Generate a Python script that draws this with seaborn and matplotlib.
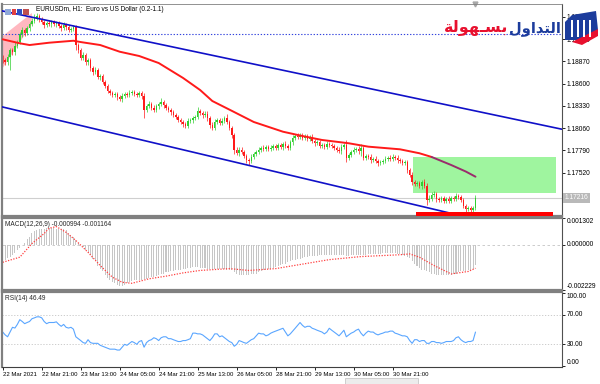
import matplotlib
matplotlib.use("Agg")
import matplotlib.pyplot as plt
import matplotlib.transforms as mtransforms
from matplotlib.patches import Rectangle, Polygon
import numpy as np
import pandas as pd
import seaborn as sns

# ---------------- data ----------------
chart_title = "EURUSDm, H1:  Euro vs US Dollar (0.2-1.1)"

first_open = 1.18920
closes = [
    1.18885, 1.18861, 1.18922, 1.19006, 1.18982, 1.19055, 1.19103, 1.19200, 1.19249, 1.19212, 1.19273, 1.19321, 1.19358, 1.19394, 1.19418,
    1.19382, 1.19346, 1.19309, 1.19334, 1.19321, 1.19346, 1.19321, 1.19334, 1.19297, 1.19273, 1.19309, 1.19285, 1.19249, 1.19261, 1.19285,
    1.19067, 1.19006, 1.18910, 1.18946, 1.18861, 1.18885, 1.18789, 1.18740, 1.18764, 1.18680, 1.18692, 1.18619, 1.18571, 1.18510, 1.18486,
    1.18462, 1.18474, 1.18437, 1.18413, 1.18449, 1.18474, 1.18462, 1.18486, 1.18498, 1.18474, 1.18462, 1.18486, 1.18449, 1.18280, 1.18328,
    1.18353, 1.18304, 1.18280, 1.18328, 1.18353, 1.18377, 1.18340, 1.18304, 1.18280, 1.18256, 1.18219, 1.18195, 1.18159, 1.18135, 1.18110,
    1.18086, 1.18147, 1.18159, 1.18183, 1.18195, 1.18268, 1.18244, 1.18219, 1.18232, 1.18183, 1.18098, 1.18062, 1.18135, 1.18159, 1.18123,
    1.18147, 1.18183, 1.18135, 1.18062, 1.17977, 1.17796, 1.17759, 1.17796, 1.17771, 1.17723, 1.17674, 1.17662, 1.17711, 1.17747, 1.17771,
    1.17796, 1.17820, 1.17808, 1.17832, 1.17808, 1.17820, 1.17844, 1.17820, 1.17856, 1.17832, 1.17868, 1.17844, 1.17820, 1.17892, 1.17941,
    1.17965, 1.17953, 1.17977, 1.17941, 1.17965, 1.17929, 1.17953, 1.17905, 1.17880, 1.17892, 1.17844, 1.17856, 1.17832, 1.17868, 1.17856,
    1.17844, 1.17820, 1.17796, 1.17783, 1.17832, 1.17856, 1.17699, 1.17735, 1.17771, 1.17796, 1.17808, 1.17783, 1.17820, 1.17699, 1.17723,
    1.17711, 1.17674, 1.17687, 1.17662, 1.17638, 1.17650, 1.17662, 1.17687, 1.17699, 1.17687, 1.17711, 1.17699, 1.17674, 1.17662, 1.17638,
    1.17650, 1.17553, 1.17493, 1.17408, 1.17384, 1.17396, 1.17360, 1.17408, 1.17360, 1.17190, 1.17202, 1.17251, 1.17263, 1.17202, 1.17190,
    1.17214, 1.17178, 1.17202, 1.17178, 1.17214, 1.17202, 1.17238, 1.17226, 1.17190, 1.17117, 1.17081, 1.17093, 1.17069, 1.17093, 1.17216,
]
# wick lengths beyond the body, in pips
upper_wick_pips = [
    3, 2, 4, 3, 2, 5, 3, 2, 4, 3, 2, 3, 4, 5, 4,
    2, 3, 2, 3, 4, 2, 3, 2, 3, 2, 4, 3, 2, 3, 2,
    2, 3, 2, 4, 3, 2, 3, 2, 4, 2, 3, 2, 3, 2, 3,
    2, 3, 2, 3, 4, 2, 3, 4, 2, 3, 2, 3, 2, 4, 3,
    3, 2, 4, 3, 2, 5, 3, 2, 3, 2, 3, 2, 2, 3, 2,
    3, 4, 3, 2, 3, 5, 3, 2, 4, 3, 2, 4, 3, 2, 3,
    4, 3, 5, 2, 3, 2, 3, 4, 3, 2, 3, 2, 4, 3, 2,
    3, 2, 3, 2, 3, 4, 2, 3, 2, 3, 2, 4, 3, 2, 4,
    3, 4, 2, 3, 2, 3, 2, 4, 2, 3, 2, 3, 2, 4, 3,
    2, 3, 2, 3, 4, 3, 6, 3, 2, 3, 2, 3, 5, 2, 3,
    2, 3, 2, 3, 2, 3, 2, 3, 2, 3, 4, 2, 3, 2, 3,
    2, 3, 3, 4, 2, 3, 2, 3, 4, 3, 5, 3, 4, 2, 3,
    2, 3, 2, 4, 3, 2, 4, 3, 2, 3, 2, 3, 2, 2, 4,
]
lower_wick_pips = [
    4, 3, 3, 16, 3, 4, 3, 2, 4, 3, 2, 3, 2, 3, 2,
    3, 2, 3, 2, 2, 3, 2, 3, 2, 3, 2, 3, 2, 3, 2,
    6, 4, 3, 2, 4, 3, 4, 3, 2, 3, 4, 2, 3, 3, 2,
    3, 2, 4, 3, 4, 2, 3, 2, 3, 2, 3, 2, 3, 10, 3,
    2, 3, 2, 3, 4, 2, 3, 2, 3, 4, 2, 3, 2, 3, 4,
    3, 2, 3, 4, 2, 3, 2, 3, 2, 4, 3, 2, 3, 2, 3,
    2, 3, 2, 3, 4, 5, 3, 4, 3, 3, 4, 5, 3, 2, 3,
    2, 3, 2, 3, 2, 3, 2, 3, 2, 3, 4, 2, 3, 2, 3,
    2, 3, 2, 3, 2, 3, 2, 3, 4, 2, 3, 2, 3, 2, 3,
    3, 2, 3, 2, 3, 2, 5, 3, 2, 3, 2, 3, 6, 2, 3,
    2, 3, 2, 3, 4, 2, 3, 2, 3, 2, 3, 2, 3, 2, 3,
    3, 4, 3, 4, 3, 2, 3, 4, 2, 6, 3, 2, 3, 4, 3,
    2, 3, 2, 3, 2, 3, 2, 3, 2, 3, 4, 3, 2, 3, 3,
]

# moving average (red line), vertices
ma_bar = [0, 7, 11, 19, 29, 32, 40, 48, 56, 64, 74, 81, 86, 94, 103, 115,
          123, 131, 142, 150, 163, 171, 176, 184, 190, 194]
ma_price = [1.19136, 1.19088, 1.19067, 1.19095, 1.19119, 1.19103, 1.19067, 1.18986,
            1.18934, 1.18849, 1.18668, 1.18522, 1.18389, 1.18270, 1.18135, 1.18017,
            1.17965, 1.17917, 1.17877, 1.17836, 1.17804, 1.17756, 1.17711, 1.17614,
            1.17535, 1.17472]

# MACD main (histogram), in units of 1e-5
macd_hist_e5 = [
    -78, -74, -64, -59, -49, -39, -29, -15, 0, 10, 25, 39, 59, 64, 69,
    74, 78, 78, 83, 83, 83, 83, 78, 78, 74, 74, 69, 59, 49, 39,
    20, 10, 0, -10, -25, -39, -49, -69, -83, -103, -118, -132, -147, -162, -176,
    -186, -191, -196, -201, -201, -196, -191, -186, -181, -176, -176, -172, -172, -167, -167,
    -162, -157, -157, -152, -147, -142, -142, -137, -137, -132, -132, -127, -123, -123, -118,
    -118, -113, -113, -108, -108, -108, -113, -113, -113, -118, -118, -118, -118, -118, -118,
    -118, -118, -123, -123, -127, -137, -142, -147, -147, -147, -147, -147, -142, -142, -142,
    -137, -132, -127, -123, -118, -118, -113, -108, -103, -98, -93, -93, -88, -83, -78,
    -74, -69, -69, -64, -59, -59, -54, -54, -54, -54, -49, -49, -49, -49, -49,
    -49, -49, -49, -49, -49, -49, -54, -54, -49, -49, -49, -49, -49, -49, -49,
    -44, -44, -44, -44, -44, -44, -39, -39, -39, -39, -39, -39, -44, -44, -49,
    -54, -59, -64, -83, -93, -103, -113, -123, -127, -132, -137, -142, -142, -147, -147,
    -147, -147, -147, -147, -147, -142, -142, -137, -132, -132, -132, -127, -123, -118, -99.4,
]
# MACD signal line vertices, units of 1e-5
signal_bar = [0, 7, 12, 17, 19, 22, 26, 30, 35, 40, 45, 49, 53, 60, 67, 74, 81, 93,
              101, 112, 122, 134, 147, 163, 167, 171, 177, 184, 191, 194]
signal_e5 = [-87, -62, 5, 54, 80, 88, 60, 20, -38, -103, -160, -185, -190, -168, -155,
             -139, -127, -118, -127, -118, -98, -74, -59, -50, -46, -62, -103, -144,
             -132, -116.4]

rsi = [
    46.5, 42.6, 40.0, 46.5, 53.0, 52.0, 57.0, 63.5, 61.0, 58.0, 59.6, 61.0, 64.8, 66.0, 67.4,
    67.4, 66.0, 61.0, 58.0, 59.6, 59.6, 59.6, 60.5, 57.0, 54.4, 57.0, 53.0, 52.0, 53.0, 50.5,
    40.0, 37.4, 34.8, 32.0, 31.0, 36.0, 32.0, 31.0, 31.0, 31.0, 28.3, 27.0, 25.7, 24.4, 23.0,
    23.0, 23.0, 21.8, 21.8, 25.7, 29.6, 28.3, 31.0, 33.5, 32.0, 29.6, 33.5, 34.8, 25.7, 32.0,
    34.8, 36.0, 38.7, 37.4, 34.8, 38.7, 40.0, 40.0, 37.4, 37.4, 36.0, 34.8, 33.5, 33.5, 34.8,
    34.8, 36.0, 37.4, 45.0, 45.0, 44.0, 44.0, 42.6, 40.0, 37.4, 34.8, 38.7, 44.0, 44.0, 40.0,
    41.3, 38.7, 36.0, 33.5, 32.0, 27.0, 29.6, 34.8, 33.5, 32.0, 31.0, 33.5, 36.0, 37.4, 41.3,
    45.0, 44.0, 44.0, 41.3, 42.6, 45.0, 46.5, 47.8, 49.0, 50.5, 51.7, 46.5, 41.3, 44.0, 47.8,
    51.7, 55.7, 59.6, 55.7, 53.0, 54.4, 54.4, 51.7, 50.5, 49.0, 47.8, 46.5, 44.0, 46.5, 51.7,
    49.0, 46.5, 44.0, 41.3, 45.0, 49.0, 40.0, 42.6, 45.0, 46.5, 49.0, 50.5, 45.0, 41.3, 45.0,
    47.8, 46.5, 46.5, 44.0, 42.6, 44.0, 45.0, 46.5, 46.5, 47.8, 47.8, 45.0, 44.0, 42.6, 41.3,
    41.3, 40.0, 34.8, 31.0, 36.0, 36.0, 33.5, 34.8, 34.8, 31.0, 31.0, 33.5, 33.5, 32.0, 32.0,
    31.0, 32.0, 33.5, 33.5, 33.5, 34.8, 38.7, 40.0, 36.0, 33.5, 32.0, 33.5, 33.5, 34.8, 46.49,
]

time_ticks = [0, 16, 32, 48, 64, 80, 96, 112, 128, 144, 160]
time_labels = ["22 Mar 2021", "22 Mar 21:00", "23 Mar 13:00", "24 Mar 05:00",
               "24 Mar 21:00", "25 Mar 13:00", "26 Mar 05:00", "28 Mar 21:00",
               "29 Mar 13:00", "30 Mar 05:00", "30 Mar 21:00"]

price_ticks = [1.19410, 1.19140, 1.18870, 1.18600, 1.18330, 1.18060, 1.17790, 1.17520, 1.17250]
macd_ticks = [0.001302, 0.0, -0.002229]
rsi_ticks = [100, 70, 30, 0]
rsi_levels = [70, 30]

bid_price = 1.17216
dotted_level = 1.19197
channel_top = [(0, 1.19479), (229, 1.18050)]
channel_bottom = [(0, 1.18316), (185, 1.17021)]
green_zone = {"bar0": 168.3, "bar1": 227.0, "low": 1.17275, "high": 1.17711}
red_zone = {"bar0": 169.5, "bar1": 225.8, "low": 1.16980, "high": 1.17050}
pink_zone_bar = [0, 12, 12, 0]
pink_zone_price = [1.19176, 1.19455, 1.19321, 1.18789]

logo_blue = "\uFEDD\uFEED\uFE8D\uFEAA\uFE98\uFEDF\uFE8D"        # التداول
logo_red = "\uFE94\uFEDF\uFEEE\uFEEC\u0640\uFEB4\uFE91"         # بسهولة

# ---------------- frame ----------------
sns.set_theme(style="white")
plt.rcParams["font.family"] = ["Liberation Sans", "DejaVu Sans"]

W, H = 600, 384
fig = plt.figure(figsize=(6.0, 3.84), dpi=100)
fig.patch.set_facecolor("white")


def px_axes(x0, y0, x1, y1):
    return fig.add_axes([x0 / W, 1 - y1 / H, (x1 - x0) / W, (y1 - y0) / H])


ax = px_axes(2, 4, 562, 216)
ax_macd = px_axes(2, 218, 562, 290)
ax_rsi = px_axes(2, 292, 562, 367)

n = min(len(closes), len(upper_wick_pips), len(lower_wick_pips), len(macd_hist_e5), len(rsi))
bars = pd.DataFrame({"bar": np.arange(n),
                     "open": ([first_open] + closes[:-1])[:n],
                     "close": closes[:n]})
body_top = bars[["open", "close"]].max(axis=1)
body_bot = bars[["open", "close"]].min(axis=1)
bars["high"] = body_top + np.array(upper_wick_pips[:n]) * 1e-4
bars["low"] = body_bot - np.array(lower_wick_pips[:n]) * 1e-4
bull = bars["close"] >= bars["open"]
candle_col = np.where(bull, "#2fcf2f", "#ff1a1a")

XMIN, XMAX = -0.3, 229.5
LBL = 4.8

# ---- main price panel ----
ax.add_patch(Rectangle((green_zone["bar0"], green_zone["low"]),
                       green_zone["bar1"] - green_zone["bar0"],
                       green_zone["high"] - green_zone["low"],
                       fc="#9ff59f", ec="none", zorder=0.5))
ax.add_patch(Polygon(list(zip(pink_zone_bar, pink_zone_price)), closed=True,
                     fc="#ffb8c0", ec="none", zorder=0.5))
ax.axhline(bid_price, color="#cfcfcf", lw=0.8, zorder=0.6)
ax.axhline(dotted_level, color="#3344dd", lw=0.8, ls=(0, (1.2, 1.6)), zorder=0.7)

ax.vlines(bars["bar"], bars["low"], bars["high"], colors=candle_col, lw=0.5, zorder=2)
ax.bar(bars["bar"], np.maximum(body_top - body_bot, 0.00003), bottom=body_bot,
       width=0.62, color=candle_col, lw=0, zorder=2)

ma = pd.DataFrame({"bar": ma_bar, "price": ma_price})
sns.lineplot(data=ma[ma["bar"] <= 176], x="bar", y="price", ax=ax,
             color="#ff1a1a", lw=1.4, zorder=3)
sns.lineplot(data=ma[ma["bar"] >= 176], x="bar", y="price", ax=ax,
             color="#9a2c6c", lw=1.4, zorder=3)

ax.axline(channel_top[0], channel_top[1], color="#1010c8", lw=1.2, zorder=3)
ax.axline(channel_bottom[0], channel_bottom[1], color="#1010c8", lw=1.2, zorder=3)
ax.add_patch(Rectangle((red_zone["bar0"], red_zone["low"]),
                       red_zone["bar1"] - red_zone["bar0"],
                       red_zone["high"] - red_zone["low"],
                       fc="#ff0000", ec="none", zorder=4))

ax.set_ylim(1.16996, 1.19564)
ax.set_yticks(price_ticks)
ax.set_yticklabels([f"{p:.5f}" for p in price_ticks])

blend = mtransforms.blended_transform_factory(ax.transAxes, ax.transData)
ax.text(1.004, bid_price, f"{bid_price:.5f}", transform=blend, ha="left", va="center",
        fontsize=LBL, color="white", zorder=10, clip_on=False,
        bbox=dict(boxstyle="square,pad=0.25", fc="#b9b9b9", ec="none"))
ax.text(0.061, 0.972, chart_title, transform=ax.transAxes, ha="left", va="center",
        fontsize=4.7, color="black")
ax.plot([n - 1], [1.0], marker="v", ms=3.5, color="#a8a8a8", clip_on=False,
        transform=mtransforms.blended_transform_factory(ax.transData, ax.transAxes))
# little toolbar icons before the title
for x0, w, c in [(5, 6, "#8fa8d8"), (12, 4, "#e04040"), (17, 5, "#3050c0"), (23, 6, "#c05050")]:
    ax.add_patch(Rectangle((x0 / W * 0 + (x0 - 2) / 560, 0.948), w / 560, 0.03,
                           transform=ax.transAxes, fc=c, ec="none", zorder=5))

# ---- MACD panel ----
ax_macd.axhline(0, color="#c4c4c4", lw=0.6, ls=(0, (3, 3)), zorder=0.5)
ax_macd.bar(bars["bar"], np.array(macd_hist_e5[:n]) * 1e-5, width=0.42,
            color="#c6c6c6", lw=0, zorder=1)
sig = pd.DataFrame({"bar": signal_bar, "val": np.array(signal_e5) * 1e-5})
sns.lineplot(data=sig, x="bar", y="val", ax=ax_macd, color="#ff4040",
             lw=0.9, ls=(0, (1, 1.2)), zorder=2)
ax_macd.set_ylim(-0.002229, 0.001302)
ax_macd.set_yticks(macd_ticks)
ax_macd.set_yticklabels([f"{v:.6f}" for v in macd_ticks])
ax_macd.text(0.006, 0.965,
             f"MACD(12,26,9) {macd_hist_e5[n - 1] * 1e-5:.6f} {signal_e5[-1] * 1e-5:.6f}",
             transform=ax_macd.transAxes, ha="left", va="top", fontsize=4.7)

# ---- RSI panel ----
for lev in rsi_levels:
    ax_rsi.axhline(lev, color="#c4c4c4", lw=0.6, ls=(0, (1.5, 2)), zorder=0.5)
sns.lineplot(x=bars["bar"], y=rsi[:n], ax=ax_rsi, color="#5aa6ff", lw=0.8, zorder=2)
ax_rsi.set_ylim(-1.5, 101.5)
ax_rsi.set_yticks(rsi_ticks)
ax_rsi.set_yticklabels([f"{v:.2f}" for v in rsi_ticks])
ax_rsi.text(0.006, 0.96, f"RSI(14) {rsi[n - 1]:.2f}", transform=ax_rsi.transAxes,
            ha="left", va="top", fontsize=4.7)
ax_rsi.set_xticks(time_ticks)
ax_rsi.set_xticklabels(time_labels, ha="left", fontsize=4.3)
ax_rsi.tick_params(axis="x", length=2.5, width=0.6, pad=1.2, direction="out",
                   bottom=True, colors="black")

# ---- shared styling ----
for a in (ax, ax_macd, ax_rsi):
    a.set_xlim(XMIN, XMAX)
    a.set_xlabel("")
    a.set_ylabel("")
    a.set_facecolor("white")
    a.grid(False)
    a.yaxis.tick_right()
    a.tick_params(axis="y", length=2, width=0.6, pad=1.2, labelsize=LBL,
                  direction="out", right=True, colors="black")
    a.spines["left"].set_color("#808080")
    a.spines["left"].set_linewidth(1.6)
    a.spines["right"].set_color("#505050")
    a.spines["right"].set_linewidth(0.8)
    a.spines["top"].set_color("#808080")
    a.spines["bottom"].set_color("#808080")
    a.spines["top"].set_linewidth(1.6)
    a.spines["bottom"].set_linewidth(1.6)
    if a is not ax_rsi:
        a.set_xticks([])
ax.spines["top"].set_linewidth(0.6)
ax_rsi.spines["bottom"].set_linewidth(0.8)
ax_rsi.spines["bottom"].set_color("#404040")

for lbl, va in zip(ax_macd.get_yticklabels(), ["top", "center", "bottom"]):
    lbl.set_va(va)
for lbl, va in zip(ax_rsi.get_yticklabels(), ["top", "center", "center", "bottom"]):
    lbl.set_va(va)

# ---- logo (top right) ----
fig.text(561 / W, 1 - 28 / H, logo_blue, ha="right", va="center", fontsize=10.5,
         fontweight="bold", color="#1c3c9c", family=["DejaVu Sans"])
fig.text(508 / W, 1 - 28 / H, logo_red, ha="right", va="center", fontsize=11.5,
         fontweight="bold", color="#e8102e", family=["DejaVu Sans"])
icon_blue = [(565, 22), (572, 15), (596, 11), (598, 30), (580, 40), (565, 40)]
icon_red = [(572, 42), (598, 29), (598, 36), (582, 45)]
fig.patches.append(Polygon([(x / W, 1 - y / H) for x, y in icon_blue],
                           transform=fig.transFigure, fc="#1c3c9c", ec="none"))
fig.patches.append(Polygon([(x / W, 1 - y / H) for x, y in icon_red],
                           transform=fig.transFigure, fc="#e8102e", ec="none"))
for bx in (571, 577, 583, 589):
    fig.patches.append(Rectangle((bx / W, 1 - 37 / H), 2.2 / W, 17 / H,
                                 transform=fig.transFigure, fc="white", ec="none"))

fig.patches.append(Rectangle((345 / W, 0), 73 / W, 6 / H, transform=fig.transFigure,
                             fc="#ececec", ec="#c8c8c8", lw=0.6))

fig.savefig("out.png", dpi=100)
